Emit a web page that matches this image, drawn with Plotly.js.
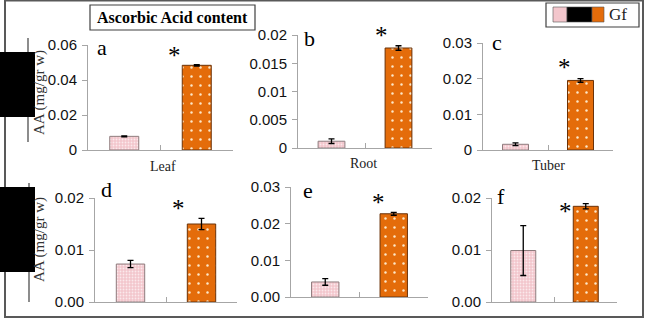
<!DOCTYPE html>
<html>
<head>
<meta charset="utf-8">
<script src="https://cdn.plot.ly/plotly-3.0.1.min.js"></script>
<style>
  html, body { margin: 0; padding: 0; background: #fff; }
  #chart { width: 645px; height: 323px; }
</style>
</head>
<body>
<div id="chart"></div>
<script>
// Ascorbic acid content, control (pink) vs Gf (orange), per organ.
const organs = ['Leaf', 'Root', 'Tuber'];
const panelLetters = ['a', 'b', 'c', 'd', 'e', 'f'];
const groups = ['Control', 'Gf'];

// Top row (a-c) and bottom row (d-f): means and standard errors, mg/gr w
const controlMeans = [0.0078, 0.0012, 0.0016, 0.0073, 0.0041, 0.0099];
const controlErrors = [0.0003, 0.0004, 0.0004, 0.0007, 0.0009, 0.0048];
const gfMeans = [0.0484, 0.0177, 0.0195, 0.0150, 0.0227, 0.0184];
const gfErrors = [0.0004, 0.0004, 0.0005, 0.0011, 0.0004, 0.0005];

// y-axis tick values and their printed labels, per panel
const tickValues = [
  [0, 0.02, 0.04, 0.06],
  [0, 0.005, 0.01, 0.015, 0.02],
  [0, 0.01, 0.02, 0.03],
  [0, 0.01, 0.02],
  [0, 0.01, 0.02, 0.03],
  [0, 0.01, 0.02]
];
const tickLabels = [
  ['0', '0.02', '0.04', '0.06'],
  ['0', '0.005', '0.01', '0.015', '0.02'],
  ['0', '0.01', '0.02', '0.03'],
  ['0.00', '0.01', '0.02'],
  ['0.00', '0.01', '0.02', '0.03'],
  ['0.00', '0.01', '0.02']
];

const W = 645, H = 323;
const px = v => v / W;
const py = v => 1 - v / H;

// plot-area geometry in pixels: left, right, top (max tick), bottom (zero)
const boxes = [
  { l: 88,  r: 233, t: 45,  b: 150 },
  { l: 298, r: 432, t: 35,  b: 148 },
  { l: 483, r: 613, t: 43,  b: 150 },
  { l: 95,  r: 237, t: 198, b: 302 },
  { l: 291, r: 428, t: 187, b: 297 },
  { l: 492, r: 617, t: 198, b: 302 }
];
// panel letter positions and star placement
const letterPos = [[102, 47], [309, 38], [497, 43], [106, 189], [308, 190], [501, 196]];
const starPos = [
  { x: 1.69, shift: 9 }, { x: 1.74, shift: 10 }, { x: 1.75, shift: 11 },
  { x: 1.67, shift: 10 }, { x: 1.78, shift: 10 }, { x: 1.67, shift: -8 }
];

const PINK = '#F3C6CC';
const ORANGE = '#E46C0A';
const AXIS = '#a6a6a6';

const traces = [];
const layout = {
  width: W, height: H,
  margin: { l: 0, r: 0, t: 0, b: 0 },
  paper_bgcolor: '#fff', plot_bgcolor: 'rgba(0,0,0,0)',
  showlegend: false,
  font: { family: 'Liberation Sans, Arial, sans-serif', size: 14, color: '#1a1a1a' },
  shapes: [], annotations: []
};

boxes.forEach((bx, i) => {
  const n = i + 1;
  const xa = n === 1 ? 'x' : 'x' + n;
  const ya = n === 1 ? 'y' : 'y' + n;
  const xKey = n === 1 ? 'xaxis' : 'xaxis' + n;
  const yKey = n === 1 ? 'yaxis' : 'yaxis' + n;
  const vals = tickValues[i];

  traces.push({
    type: 'bar', x: [1], y: [controlMeans[i]], name: groups[0],
    xaxis: xa, yaxis: ya, width: 0.4,
    marker: {
      color: PINK,
      line: { color: '#8e7b7d', width: 1 },
      pattern: { shape: '.', fillmode: 'replace', bgcolor: PINK, fgcolor: '#fbe9ec', size: 3, solidity: 0.3 }
    },
    error_y: { type: 'data', array: [controlErrors[i]], color: '#000', thickness: 1.3, width: 3 },
    hoverinfo: 'skip'
  });
  traces.push({
    type: 'bar', x: [2], y: [gfMeans[i]], name: groups[1],
    xaxis: xa, yaxis: ya, width: 0.4,
    marker: {
      color: ORANGE,
      line: { color: '#6b3208', width: 1 },
      pattern: { shape: '.', fillmode: 'replace', bgcolor: ORANGE, fgcolor: '#fde7c8', size: 9, solidity: 0.06 }
    },
    error_y: { type: 'data', array: [gfErrors[i]], color: '#000', thickness: 1.3, width: 3 },
    hoverinfo: 'skip'
  });

  layout[xKey] = {
    domain: [px(bx.l), px(bx.r)],
    anchor: ya, range: [0.5, 2.5],
    showline: true, linecolor: AXIS, linewidth: 1,
    ticks: 'inside', ticklen: 5, tickcolor: AXIS, tickwidth: 1,
    tickvals: [0.5, 1.5, 2.5], showticklabels: false,
    showgrid: false, zeroline: false, fixedrange: true
  };
  layout[yKey] = {
    domain: [py(bx.b), py(bx.t)],
    anchor: xa, range: [0, vals[vals.length - 1]],
    showline: true, linecolor: AXIS, linewidth: 1,
    ticks: 'outside', ticklen: 5, tickcolor: AXIS, tickwidth: 1,
    tickvals: vals, ticktext: tickLabels[i],
    tickfont: { family: 'Liberation Sans, Arial, sans-serif', size: 15, color: '#111' },
    ticklabelstandoff: 2,
    showgrid: false, zeroline: false, fixedrange: true
  };

  // panel letter
  layout.annotations.push({
    xref: 'paper', yref: 'paper', x: px(letterPos[i][0]), y: py(letterPos[i][1]),
    text: panelLetters[i], showarrow: false, xanchor: 'center', yanchor: 'middle',
    font: { family: 'Liberation Serif, Times New Roman, serif', size: 22, color: '#000' }
  });
  // significance star above the Gf bar
  layout.annotations.push({
    xref: xa, yref: ya, x: starPos[i].x, y: gfMeans[i] + gfErrors[i],
    yshift: starPos[i].shift,
    text: '*', showarrow: false, xanchor: 'center', yanchor: 'middle',
    font: { family: 'Liberation Serif, Times New Roman, serif', size: 25, color: '#000' }
  });
});

// organ names under the top row
const organX = [163, 363, 548];
const organY = [166, 163, 165];
organs.forEach((o, k) => {
  layout.annotations.push({
    xref: 'paper', yref: 'paper', x: px(organX[k]), y: py(organY[k]),
    text: o, showarrow: false, xanchor: 'center', yanchor: 'middle',
    font: { family: 'Liberation Serif, Times New Roman, serif', size: 14, color: '#222' }
  });
});

// outer frame
layout.shapes.push({
  type: 'rect', xref: 'paper', yref: 'paper', layer: 'below',
  x0: px(5), x1: px(643), y0: py(317), y1: py(0.5),
  line: { color: '#595959', width: 2 }, fillcolor: 'rgba(0,0,0,0)'
});

// y-axis titles with their side rules and dark blocks
[[52, 117, 38, 142, 28, 93], [187, 272, 183, 302, 29, 240]].forEach(r => {
  layout.shapes.push({
    type: 'line', xref: 'paper', yref: 'paper', layer: 'above',
    x0: px(r[4]), x1: px(r[4]), y0: py(r[2]), y1: py(r[3]),
    line: { color: '#404040', width: 1.2 }
  });
  layout.shapes.push({
    type: 'rect', xref: 'paper', yref: 'paper', layer: 'above',
    x0: 0, x1: px(35), y0: py(r[1]), y1: py(r[0]),
    line: { width: 0 }, fillcolor: '#000'
  });
  layout.annotations.push({
    xref: 'paper', yref: 'paper', x: px(39), y: py(r[5]),
    text: 'AA (mg/gr w)', textangle: -90, showarrow: false,
    xanchor: 'center', yanchor: 'middle',
    font: { family: 'Liberation Serif, Times New Roman, serif', size: 15, color: '#333' }
  });
});

// chart title box
layout.shapes.push({
  type: 'rect', xref: 'paper', yref: 'paper', layer: 'above',
  x0: px(90), x1: px(255), y0: py(30), y1: py(5),
  line: { color: '#404040', width: 1.2 }, fillcolor: 'rgba(0,0,0,0)'
});
layout.annotations.push({
  xref: 'paper', yref: 'paper', x: px(172), y: py(17.5),
  text: '<b>Ascorbic Acid content</b>', showarrow: false,
  xanchor: 'center', yanchor: 'middle',
  font: { family: 'Liberation Serif, Times New Roman, serif', size: 16, color: '#000' }
});

// legend key: control / black separator / Gf swatches
layout.shapes.push({
  type: 'rect', xref: 'paper', yref: 'paper', layer: 'above',
  x0: px(546), x1: px(639), y0: py(27), y1: py(3),
  line: { color: '#404040', width: 1.2 }, fillcolor: '#fff'
});
[[553, 567, PINK], [567, 592, '#000'], [592, 604, ORANGE]].forEach(s => {
  layout.shapes.push({
    type: 'rect', xref: 'paper', yref: 'paper', layer: 'above',
    x0: px(s[0]), x1: px(s[1]), y0: py(22), y1: py(7),
    line: { color: '#555', width: 0.6 }, fillcolor: s[2]
  });
});
layout.annotations.push({
  xref: 'paper', yref: 'paper', x: px(607), y: py(15),
  text: groups[1], showarrow: false, xanchor: 'left', yanchor: 'middle',
  font: { family: 'Liberation Serif, Times New Roman, serif', size: 17, color: '#222' }
});

Plotly.newPlot('chart', traces, layout, { staticPlot: true, displayModeBar: false });
</script>
</body>
</html>
